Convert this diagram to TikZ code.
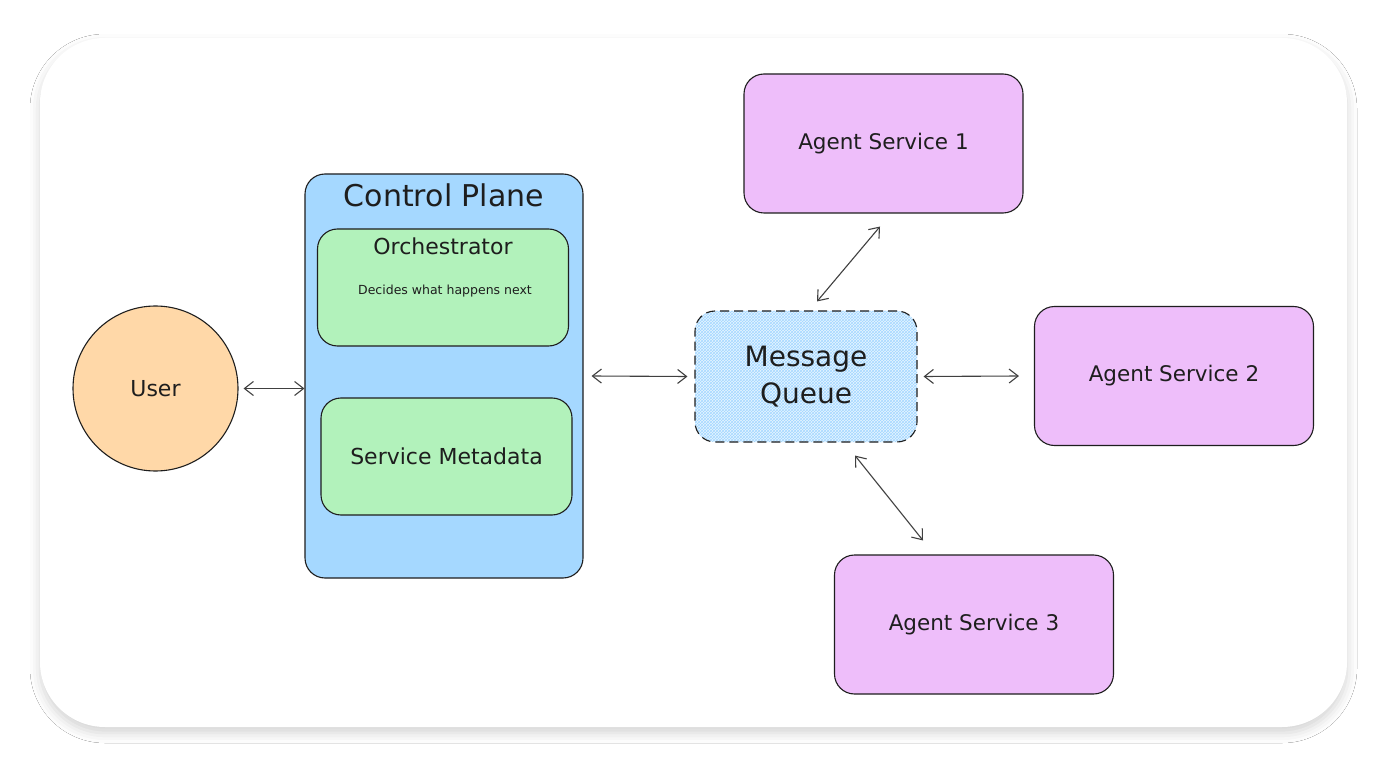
\documentclass[tikz,border=0pt]{standalone}
\usepackage{xcolor}
\usepackage{fontspec}
\setmainfont{DejaVu Sans}
\usepackage{tikz}
\usetikzlibrary{arrows.meta}
\usetikzlibrary{patterns}
\usetikzlibrary{shadows.blur}

\definecolor{inkcol}{HTML}{1E1E1E}
\definecolor{usercol}{HTML}{FFD8A8}
\definecolor{planecol}{HTML}{A5D8FF}
\definecolor{greencol}{HTML}{B2F2BB}
\definecolor{agentcol}{HTML}{EEBEFA}
\definecolor{queuecol}{HTML}{E7F5FF}

\tikzset{
    box/.style={draw=inkcol, line width=1.1pt, rounded corners=20pt, inner sep=0pt},
    agent/.style={box, fill=agentcol, minimum width=279pt, minimum height=139pt},
    inner/.style={box, fill=greencol, minimum width=251pt, minimum height=117pt},
    conn/.style={draw=inkcol!85, line width=1.1pt, {Straight Barb[length=9pt,width=14pt]}-{Straight Barb[length=9pt,width=14pt]}},
    sz/.style={font=\fontsize{#1}{#1}\selectfont, text=inkcol}
}

\begin{document}
\begin{tikzpicture}[x=1pt, y=-1pt]
    \fill[white] (0,0) rectangle (1387,767);
    \useasboundingbox (0,0) rectangle (1387,767);

    % card
    \draw[draw=none, fill=white, rounded corners=65pt,
        blur shadow={shadow xshift=0pt, shadow yshift=-6pt, shadow blur radius=10pt, shadow opacity=17}]
        (40,38) rectangle (1347,727);

    % user and control plane
    \node[draw=inkcol, line width=1.1pt, circle, fill=usercol, minimum size=165pt, sz=22] (user) at (155.5,388.5) {User};

    \node[box, fill=planecol, minimum width=278pt, minimum height=404pt] (cp) at (444,376) {};
    \node[sz=30] (cptitle) at (444,195) {Control Plane};

    \node[inner] (orch) at (443,287.5) {};
    \node[sz=22] (orchtitle) at (443,246) {Orchestrator};
    \node[sz=12.5] (orchnote) at (445,291) {Decides what happens next};

    \node[inner, sz=22] (meta) at (446.5,456.5) {Service Metadata};

    % message queue
    \node[box, dashed, dash pattern=on 9pt off 5pt, preaction={fill=queuecol},
        pattern=crosshatch, pattern color=planecol,
        minimum width=222pt, minimum height=131pt, align=center,
        font=\fontsize{28}{37}\selectfont, text=inkcol] (mq) at (806,376.5) {Message\\Queue};

    % agents
    \foreach \coord/\name/\txt in {
        {883.5,143.5}/as1/{Agent Service 1},
        {1174,376}/as2/{Agent Service 2},
        {974,624.5}/as3/{Agent Service 3}
    }{
        \node[agent, sz=21.5] (\name) at (\coord) {\txt};
    }

    \draw[conn] ([xshift=5pt]user.east) -- (user.east -| cp.west);
    \draw[conn] ([xshift=8pt]cp.east) -- ([xshift=-7pt]mq.west);
    \draw[conn] ([xshift=6pt]mq.east) -- ([xshift=-15pt]as2.west);
    \draw[conn] ([xshift=11pt, yshift=9pt]mq.north) -- ([xshift=-3.5pt, yshift=-13pt]as1.south);
    \draw[conn] ([xshift=49pt, yshift=-13pt]mq.south) -- ([xshift=-51pt, yshift=14pt]as3.north);

\end{tikzpicture}
\end{document}
